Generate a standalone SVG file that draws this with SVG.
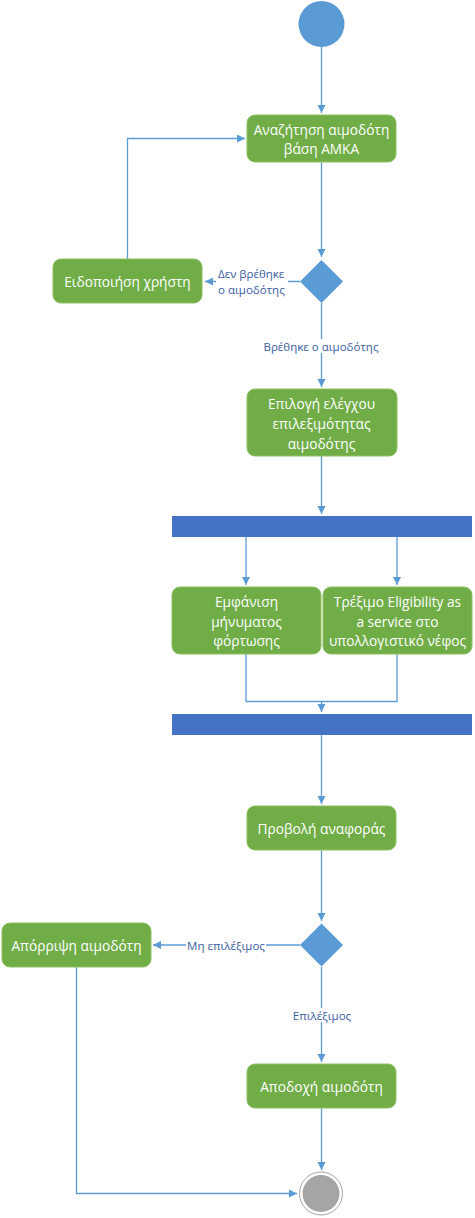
<svg xmlns="http://www.w3.org/2000/svg" width="475" height="1218" viewBox="0 0 475 1218">
<defs>
<marker id="arr" markerWidth="10" markerHeight="10" refX="8" refY="4" orient="auto" markerUnits="userSpaceOnUse">
<path d="M0,0 L8,4 L0,8 Z" fill="#5B9BD5"/>
</marker>
</defs>
<style>
.node rect{fill:#70AD47;stroke:#8CC063;stroke-width:1}
.node text{fill:#FFFFFF;font-family:"Open Sans","Noto Sans",sans-serif;font-size:13.7px;text-anchor:middle;dominant-baseline:central}
.blue{fill:#5B9BD5}
.bar{fill:#4472C4}
.conn path{fill:none;stroke:#5B9BD5;stroke-width:1.3;marker-end:url(#arr)}
.conn path.plain{marker-end:none}
.lbl{fill:#3A5DA3;font-family:"Open Sans","Noto Sans",sans-serif;font-size:11.5px;dominant-baseline:central}
.lblbg{fill:#FFFFFF}
</style>
<rect width="475" height="1218" fill="#FFFFFF"/>
<g class="conn" id="connectors">
<path d="M321.5,47 V113"/>
<path d="M321.5,162 V257"/>
<path d="M300,281.5 H205"/>
<path d="M127.5,259 V138.5 H245"/>
<path d="M321.5,303 V387"/>
<path d="M321.5,456 V514"/>
<path d="M246,537 V585"/>
<path d="M397,537 V585"/>
<path class="plain" d="M246,654 V701.5 H397 V654"/>
<path d="M321.5,701.5 V712"/>
<path d="M321.5,735 V804"/>
<path d="M321.5,850 V921"/>
<path d="M300,945 H153"/>
<path d="M321.5,967 V1062"/>
<path d="M321.5,1108 V1170"/>
<path d="M76.5,967 V1193.5 H297"/>
</g>
<g id="labels">
<rect class="lblbg" x="216" y="265" width="72" height="32"/>
<text class="lbl" x="218" y="273">Δεν βρέθηκε</text>
<text class="lbl" x="218" y="289">ο αιμοδότης</text>
<rect class="lblbg" x="261" y="339" width="120" height="14"/>
<text class="lbl" x="321" y="346" text-anchor="middle">Βρέθηκε ο αιμοδότης</text>
<rect class="lblbg" x="186" y="938" width="80" height="14"/>
<text class="lbl" x="226" y="945" text-anchor="middle">Μη επιλέξιμος</text>
<rect class="lblbg" x="292" y="1008" width="60" height="14"/>
<text class="lbl" x="322" y="1015" text-anchor="middle">Επιλέξιμος</text>
</g>
<g id="start"><circle class="blue" cx="321.5" cy="24" r="23"/></g>
<g id="n1" class="node"><rect x="247" y="115" width="149" height="47" rx="8"/><text x="321.5" y="129.5">Αναζήτηση αιμοδότη</text><text x="321.5" y="148">βάση ΑΜΚΑ</text></g>
<g id="d1"><polygon class="blue" points="321.5,260 343,281.5 321.5,303 300,281.5"/></g>
<g id="n2" class="node"><rect x="53" y="259" width="149" height="44" rx="8"/><text x="127.5" y="281">Ειδοποιήση χρήστη</text></g>
<g id="n3" class="node"><rect x="247" y="389" width="150" height="67" rx="8"/><text x="321.5" y="403">Επιλογή ελέγχου</text><text x="321.5" y="423">επιλεξιμότητας</text><text x="321.5" y="443">αιμοδότης</text></g>
<g id="fork"><rect class="bar" x="172" y="516" width="300" height="21"/></g>
<g id="n4" class="node"><rect x="172" y="587" width="149" height="67" rx="8"/><text x="246.5" y="601.5">Εμφάνιση</text><text x="246.5" y="621">μήνυματος</text><text x="246.5" y="640">φόρτωσης</text></g>
<g id="n5" class="node"><rect x="323" y="587" width="149" height="67" rx="8"/><text x="397.5" y="601.5">Τρέξιμο Eligibility as</text><text x="397.5" y="621">a service στο</text><text x="397.5" y="640">υπολλογιστικό νέφος</text></g>
<g id="join"><rect class="bar" x="172" y="714" width="300" height="21"/></g>
<g id="n6" class="node"><rect x="247" y="806" width="149" height="44" rx="8"/><text x="321.5" y="828">Προβολή αναφοράς</text></g>
<g id="d2"><polygon class="blue" points="321.5,923.5 343,945 321.5,966.5 300,945"/></g>
<g id="n7" class="node"><rect x="2" y="923" width="149" height="44" rx="8"/><text x="76.5" y="945">Απόρριψη αιμοδότη</text></g>
<g id="n8" class="node"><rect x="247" y="1064" width="149" height="44" rx="8"/><text x="321.5" y="1086">Αποδοχή αιμοδότη</text></g>
<g id="end"><circle cx="321" cy="1193.5" r="21.5" fill="#FFFFFF" stroke="#A5A5A5" stroke-width="1"/><circle cx="321" cy="1193.5" r="18.5" fill="#A5A5A5"/></g>
</svg>
